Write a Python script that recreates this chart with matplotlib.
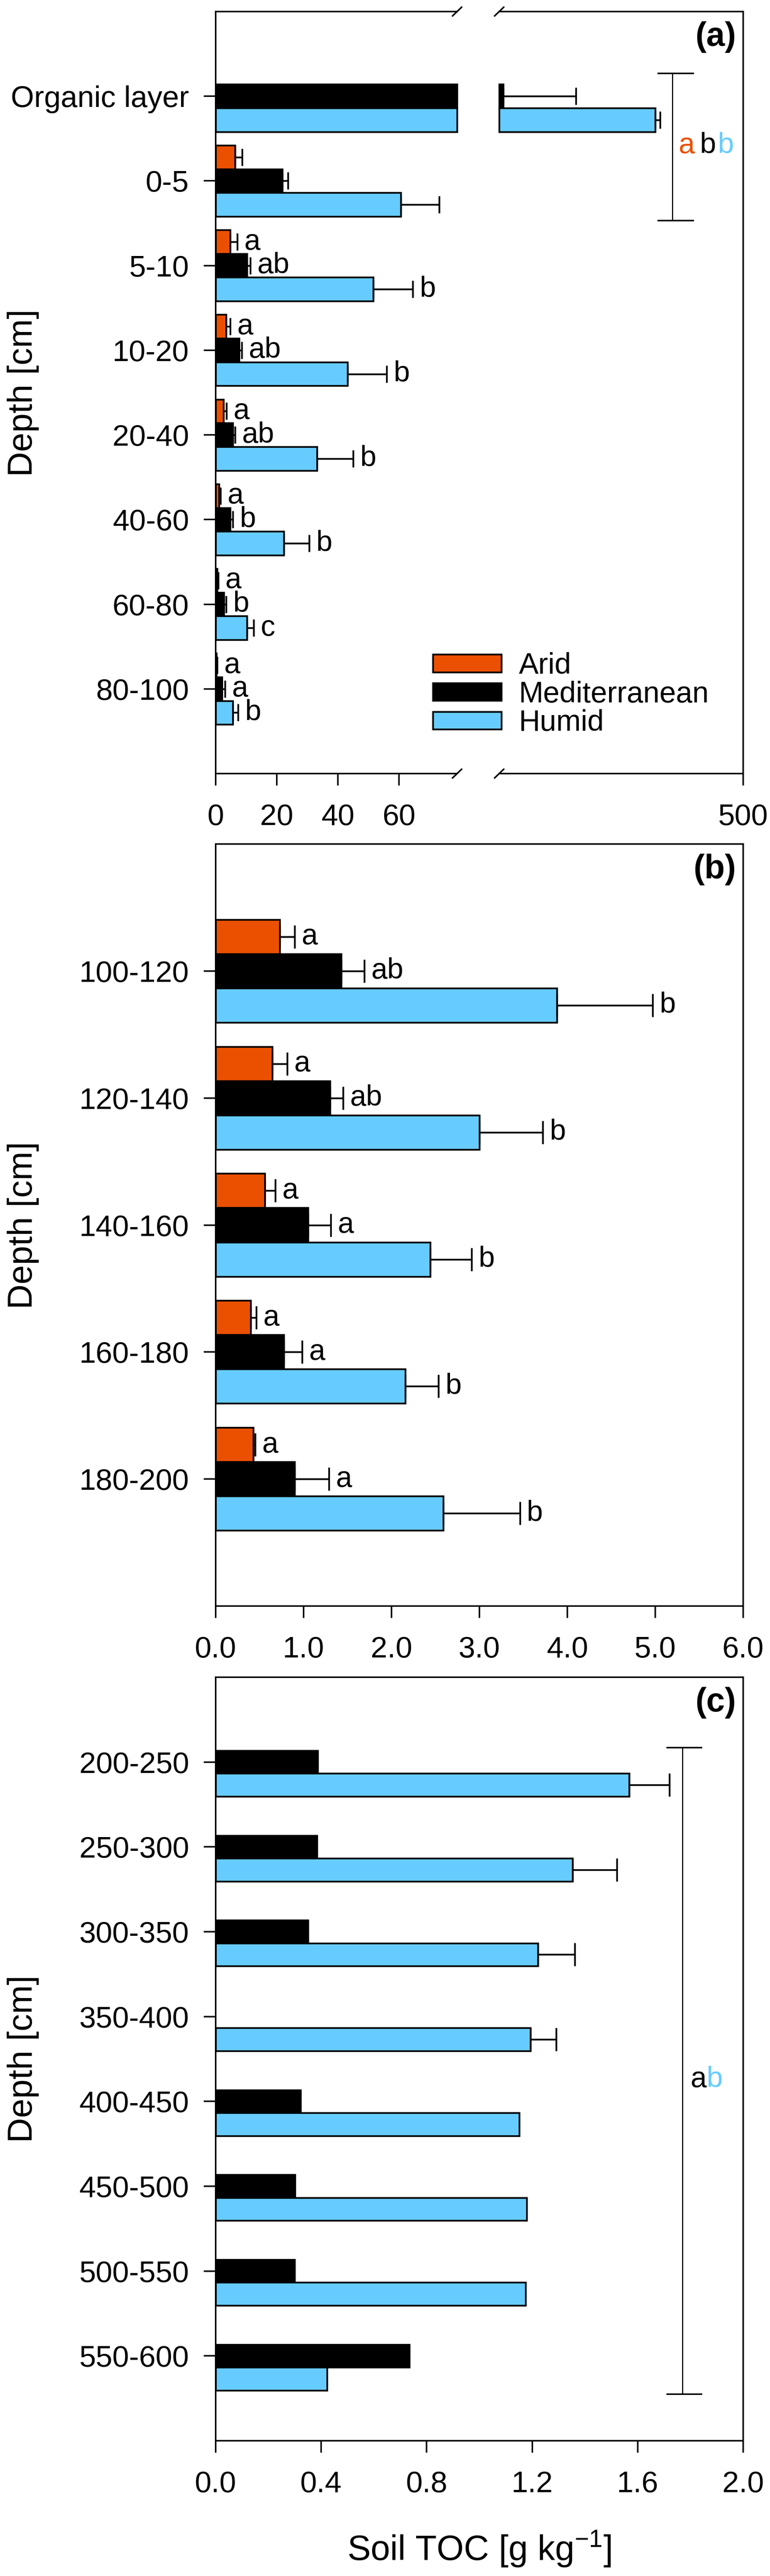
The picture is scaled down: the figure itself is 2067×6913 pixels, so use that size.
import numpy as np
import matplotlib.pyplot as plt

plt.rcParams["font.family"] = ["Liberation Sans", "DejaVu Sans"]
plt.rcParams["mathtext.fontset"] = "custom"
plt.rcParams["mathtext.rm"] = "Liberation Sans"
plt.rcParams["mathtext.it"] = "Liberation Sans:italic"

nan = np.nan

# ---- panel (a): 0-100 cm ----
depth_a = ["Organic layer", "0-5", "5-10", "10-20", "20-40", "40-60", "60-80", "80-100"]
arid_a = [nan, 6.3, 4.7, 3.4, 2.6, 1.1, 0.5, 0.3]
arid_err_a = [nan, 2.4, 2.4, 1.4, 0.9, 0.5, 0.3, 0.2]
med_a = [107, 21.8, 10.2, 7.7, 5.6, 4.7, 2.7, 2.1]
med_err_a = [119, 1.9, 1.1, 0.8, 0.7, 0.9, 0.7, 1.0]
hum_a = [356, 60.6, 51.6, 43.1, 33.2, 22.3, 10.2, 5.6]
hum_err_a = [8, 12.6, 12.9, 12.9, 11.8, 8.3, 2.2, 1.7]
arid_let_a = ["", "", "a", "a", "a", "a", "a", "a"]
med_let_a = ["", "", "ab", "ab", "ab", "b", "b", "a"]
hum_let_a = ["", "", "b", "b", "b", "b", "c", "b"]

# ---- panel (b): 100-200 cm ----
depth_b = ["100-120", "120-140", "140-160", "160-180", "180-200"]
arid_b = [0.73, 0.645, 0.56, 0.40, 0.43]
arid_err_b = [0.17, 0.17, 0.12, 0.06, 0.02]
med_b = [1.43, 1.30, 1.05, 0.775, 0.90]
med_err_b = [0.26, 0.15, 0.26, 0.21, 0.39]
hum_b = [3.88, 3.00, 2.44, 2.155, 2.59]
hum_err_b = [1.09, 0.72, 0.47, 0.38, 0.87]
arid_let_b = ["a", "a", "a", "a", "a"]
med_let_b = ["ab", "ab", "a", "a", "a"]
hum_let_b = ["b", "b", "b", "b", "b"]

# ---- panel (c): 200-600 cm ----
depth_c = ["200-250", "250-300", "300-350", "350-400", "400-450", "450-500", "500-550", "550-600"]
med_c = [0.387, 0.384, 0.350, nan, 0.322, 0.301, 0.299, 0.735]
hum_c = [1.568, 1.353, 1.222, 1.194, 1.151, 1.179, 1.175, 0.423]
hum_err_c = [0.153, 0.168, 0.140, 0.097, nan, nan, nan, nan]

ARID = "#EB5000"
MED = "#000000"
HUM = "#66CCFF"
FS = 19.3
LW = 1.1

W, H = 2067, 6913
fig = plt.figure(figsize=(W / 300, H / 300), dpi=300)


def box(l, t, r, b):
    return [l / W, 1 - b / H, (r - l) / W, (b - t) / H]


ax_a1 = fig.add_axes(box(579, 31, 1227, 2076))
ax_a2 = fig.add_axes(box(1340, 31, 1995, 2076))
ax_b = fig.add_axes(box(579, 2265, 1995, 4310))
ax_c = fig.add_axes(box(579, 4501, 1995, 6550))


def style(ax, n):
    for s in ax.spines.values():
        s.set_linewidth(1.0)
    ax.tick_params(axis="both", direction="out", length=7.7, width=1.0, labelsize=FS)
    ax.tick_params(axis="x", pad=11.5, top=False)
    ax.tick_params(axis="y", pad=9.5, right=False)
    ax.set_ylim(n + 1, 0)


def series(ax, vals, errs, color, pos, h, cap, letters=None, lo=0.0, hi=None):
    vals = np.array(vals, dtype=float)
    errs = np.array(errs, dtype=float) if errs is not None else np.full(len(vals), nan)
    if hi is not None:
        w = np.where(vals > hi, hi, vals)
    else:
        w = vals.copy()
    if lo > 0:
        w = np.where(vals > lo, vals - lo, nan)
    bars = ax.barh(pos, w, height=h, left=lo, color=color, edgecolor="black",
                   linewidth=LW, zorder=2)
    for p in bars:
        p.set_clip_on(False)
    show = ~np.isnan(errs) & ~np.isnan(vals)
    if hi is not None:
        show &= vals + errs <= hi
    if lo > 0:
        show &= vals > lo
    if show.any():
        ax.errorbar(vals[show], pos[show], xerr=[np.zeros(show.sum()), errs[show]],
                    fmt="none", ecolor="black", elinewidth=LW, capsize=cap,
                    capthick=LW, zorder=3)
    if letters is not None:
        for i, t in enumerate(letters):
            if t:
                x = vals[i] + (errs[i] if not np.isnan(errs[i]) else 0)
                ax.annotate(t, (x, pos[i]), xytext=(4.5, 0), textcoords="offset points",
                            ha="left", va="center", fontsize=18.7)
    return bars


# ---- panel (a) ----
h = 0.28
ya = np.arange(1, len(depth_a) + 1)
for ax in (ax_a1, ax_a2):
    style(ax, len(depth_a))
ax_a1.set_xlim(0, 79)
ax_a2.set_xlim(100, 500)
b1 = series(ax_a1, arid_a, arid_err_a, ARID, ya - h, h, 5.5, arid_let_a, hi=79)
b2 = series(ax_a1, med_a, med_err_a, MED, ya, h, 5.5, med_let_a, hi=79)
b3 = series(ax_a1, hum_a, hum_err_a, HUM, ya + h, h, 5.5, hum_let_a, hi=79)
series(ax_a2, med_a, med_err_a, MED, ya, h, 5.5, lo=100)
series(ax_a2, hum_a, hum_err_a, HUM, ya + h, h, 5.5, lo=100)
ax_a1.set_xticks([0, 20, 40, 60])
ax_a1.set_yticks(ya)
ax_a1.set_yticklabels(depth_a)
ax_a1.spines["right"].set_visible(False)
ax_a2.spines["left"].set_visible(False)
ax_a2.set_xticks([500])
ax_a2.set_yticks([])

# axis break marks
for ax, xc in ((ax_a1, 1.0), (ax_a2, 0.0)):
    dx = 12.5 / ax.bbox.width
    dy = 12.0 / ax.bbox.height
    for yc in (0.0, 1.0):
        ax.plot([xc - dx, xc + dx], [yc - dy, yc + dy], color="black", lw=1.0,
                transform=ax.transAxes, clip_on=False, solid_capstyle="round")

# bracket over organic layer and 0-5
ax_a2.plot([384, 384], [0.73, 2.47], color="black", lw=0.7, clip_on=False)
ax_a2.plot([361, 418], [0.73, 0.73], color="black", lw=1.0, clip_on=False)
ax_a2.plot([361, 418], [2.47, 2.47], color="black", lw=1.0, clip_on=False)
for t, c, off in (("a", ARID, 0), ("b", MED, 13.7), ("b", HUM, 25.4)):
    ax_a2.annotate(t, (394, 1.58), xytext=(off, 0), textcoords="offset points",
                   ha="left", va="center", color=c, fontsize=18.7)

leg = fig.legend([b1, b2, b3], ["Arid", "Mediterranean", "Humid"], loc="upper left",
                 bbox_to_anchor=(1162 / W, 1 - 1750 / H), frameon=False, fontsize=19,
                 handlelength=2.33, handleheight=0.54, handletextpad=0.58,
                 labelspacing=0.02, borderpad=0, borderaxespad=0)

# ---- panel (b) ----
hb = 0.27
yb = np.arange(1, len(depth_b) + 1)
style(ax_b, len(depth_b))
ax_b.set_xlim(0, 6)
series(ax_b, arid_b, arid_err_b, ARID, yb - hb, hb, 7.4, arid_let_b)
series(ax_b, med_b, med_err_b, MED, yb, hb, 7.4, med_let_b)
series(ax_b, hum_b, hum_err_b, HUM, yb + hb, hb, 7.4, hum_let_b)
ax_b.set_xticks(np.arange(0, 6.01, 1.0))
ax_b.set_xticklabels([f"{v:.1f}" for v in np.arange(0, 6.01, 1.0)])
ax_b.set_yticks(yb)
ax_b.set_yticklabels(depth_b)

# ---- panel (c) ----
hc = 0.27
yc_ = np.arange(1, len(depth_c) + 1)
style(ax_c, len(depth_c))
ax_c.set_xlim(0, 2)
series(ax_c, med_c, None, MED, yc_, hc, 7.5)
series(ax_c, hum_c, hum_err_c, HUM, yc_ + hc, hc, 7.5)
ax_c.set_xticks(np.arange(0, 2.01, 0.4))
ax_c.set_xticklabels([f"{v:.1f}" for v in np.arange(0, 2.01, 0.4)])
ax_c.set_yticks(yc_)
ax_c.set_yticklabels(depth_c)
ax_c.plot([1.77, 1.77], [0.83, 8.45], color="black", lw=0.7, clip_on=False)
ax_c.plot([1.712, 1.842], [0.83, 0.83], color="black", lw=1.0, clip_on=False)
ax_c.plot([1.712, 1.842], [8.45, 8.45], color="black", lw=1.0, clip_on=False)
ax_c.annotate("a", (1.801, 4.74), ha="left", va="center", color=MED, fontsize=18.7)
ax_c.annotate("b", (1.801, 4.74), xytext=(10.4, 0), textcoords="offset points",
              ha="left", va="center", color=HUM, fontsize=18.7)

# ---- labels ----
for lab, top in (("(a)", 31), ("(b)", 2265), ("(c)", 4501)):
    fig.text(1976 / W, 1 - (top + 26) / H, lab, ha="right", va="top",
             fontweight="bold", fontsize=21.5)
for yc in (1054, 3288, 5525):
    fig.text(62 / W, 1 - yc / H, "Depth [cm]", rotation=90, ha="center",
             va="center", fontsize=22.3)
fig.text(1287 / W, 1 - 6840 / H, r"Soil TOC [g kg$^{-1}$]", ha="center",
         va="center", fontsize=22.5)

fig.savefig("out.png", dpi=300)
